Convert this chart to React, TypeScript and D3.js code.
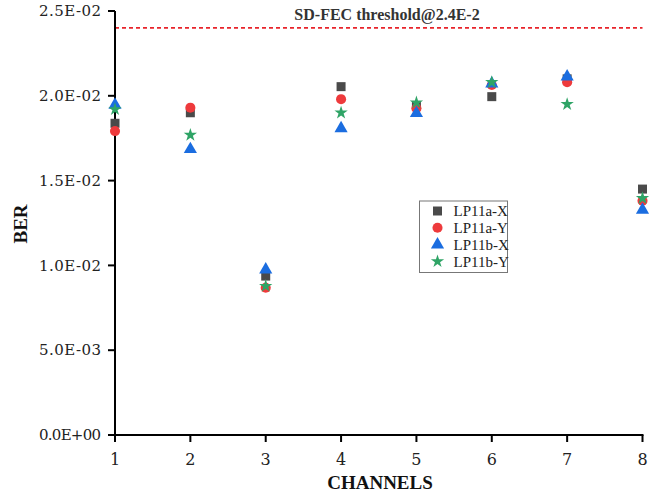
import React from "react";
import * as d3 from "d3";

const channels = [1, 2, 3, 4, 5, 6, 7, 8];
const lp11aX = [0.01838, 0.0190, 0.00937, 0.02054, 0.0194, 0.01995, 0.0210, 0.0145];
const lp11aY = [0.01792, 0.0193, 0.00868, 0.0198, 0.01926, 0.02064, 0.0208, 0.01381];
const lp11bX = [0.01946, 0.01685, 0.00975, 0.01808, 0.01897, 0.02072, 0.02113, 0.01327];
const lp11bY = [0.0192, 0.01769, 0.00878, 0.0190, 0.0196, 0.02080, 0.0195, 0.01396];
const yTicks = [0, 0.005, 0.01, 0.015, 0.02, 0.025];
const yTickLabels = ["0.0E+00", "5.0E-03", "1.0E-02", "1.5E-02", "2.0E-02", "2.5E-02"];
const threshold = 0.024;
const thresholdLabel = "SD-FEC threshold@2.4E-2";

const seriesNames = ["LP11a-X", "LP11a-Y", "LP11b-X", "LP11b-Y"];
const seriesValues = [lp11aX, lp11aY, lp11bX, lp11bY];
const colors = ["#4a4a4a", "#ee3a3c", "#1b6de0", "#2fa466"];
const symbols = [d3.symbolSquare, d3.symbolCircle, d3.symbolTriangle, d3.symbolStar];
const sizes = [81, 80, 75, 55];

export default function App() {
  const W = 662, H = 494;
  const x = d3.scaleLinear().domain([1, 8]).range([115, 642.5]);
  const y = d3.scaleLinear().domain([0, 0.025]).range([435, 11]);
  const font = "Liberation Serif";
  const tickFont = "DejaVu Serif";
  const sym = (i: number) => d3.symbol().type(symbols[i]).size(sizes[i])() as string;
  const legendX = 419.5, legendY = 201;
  return (
    <svg width={W} height={H} style={{ position: "absolute", left: 0, top: 0 }}>
      <rect width={W} height={H} fill="#fff" />
      <line x1={x(1)} x2={x(8)} y1={y(threshold)} y2={y(threshold)} stroke="#e8242b" strokeWidth={1.8} strokeDasharray="4,3" />
      <text x={387} y={20} textAnchor="middle" fontFamily={font} fontWeight="bold" fontSize={16} fill="#333">{thresholdLabel}</text>
      <line x1={x(1)} x2={x(1)} y1={y(0)} y2={y(0.025)} stroke="#000" strokeWidth={2} />
      <line x1={x(1) - 1} x2={x(8) + 1} y1={y(0)} y2={y(0)} stroke="#000" strokeWidth={2} />
      {yTicks.map((t, i) => (
        <g key={"yt" + i}>
          <line x1={x(1) - 7} x2={x(1)} y1={y(t)} y2={y(t)} stroke="#000" strokeWidth={2} />
          <text x={101} y={y(t)} dy="0.35em" textAnchor="end" fontFamily={tickFont} fontSize={15} fill="#222" textLength={62} lengthAdjust="spacing">{yTickLabels[i]}</text>
        </g>
      ))}
      {channels.map((c) => (
        <g key={"xt" + c}>
          <line x1={x(c)} x2={x(c)} y1={y(0)} y2={y(0) + 7} stroke="#000" strokeWidth={2} />
          <text x={x(c)} y={459} dy="0.35em" textAnchor="middle" fontFamily={tickFont} fontSize={16} fill="#222">{c}</text>
        </g>
      ))}
      <text x={380} y={482} dy="0.35em" textAnchor="middle" fontFamily={font} fontWeight="bold" fontSize={19} fill="#111">CHANNELS</text>
      <text transform={`translate(20,${224}) rotate(-90)`} dy="0.35em" textAnchor="middle" fontFamily={font} fontWeight="bold" fontSize={19} fill="#111">BER</text>
      {seriesValues.map((vals, si) => (
        <g key={"s" + si}>
          {vals.map((v, ci) => (
            <path key={ci} d={sym(si)} transform={`translate(${x(channels[ci])},${y(v)})`} fill={colors[si]} />
          ))}
        </g>
      ))}
      <rect x={legendX} y={legendY} width={88} height={71.5} fill="#fff" stroke="#777" strokeWidth={1} />
      {seriesNames.map((n, i) => (
        <g key={"lg" + i} transform={`translate(${legendX},${legendY + 10 + i * 16.8})`}>
          <path d={sym(i)} transform="translate(18,0)" fill={colors[i]} />
          <text x={34} y={0} dy="0.35em" fontFamily={font} fontSize={15} fill="#222">{n}</text>
        </g>
      ))}
    </svg>
  );
}
